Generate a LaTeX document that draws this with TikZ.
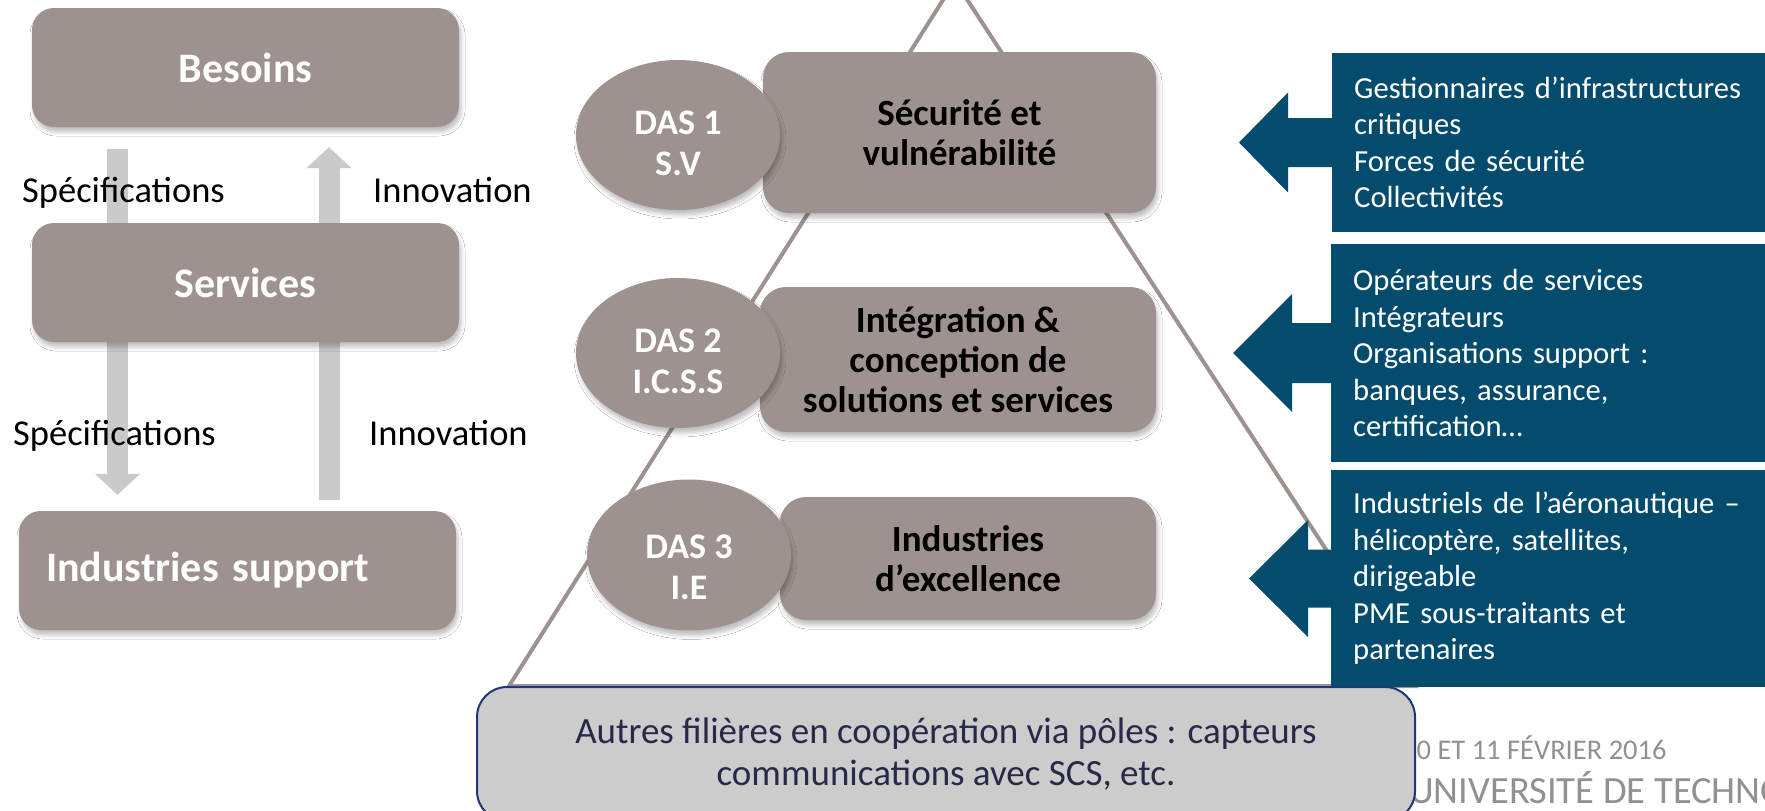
\documentclass[tikz,border=0pt]{standalone}
\usepackage{fontspec}
\setmainfont{Carlito}
\usetikzlibrary{arrows.meta,shapes.geometric,shadows.blur,calc}

\definecolor{boxgrey}{RGB}{157,146,144}
\definecolor{flowgrey}{RGB}{202,202,202}
\definecolor{calblue}{RGB}{4,76,110}
\definecolor{basegrey}{RGB}{204,204,204}
\definecolor{baseedge}{RGB}{30,56,118}
\definecolor{basetext}{RGB}{40,40,72}
\definecolor{footgrey}{RGB}{145,145,145}

\tikzset{
  softshadow/.style={blur shadow={shadow xshift=2pt,shadow yshift=-5pt,shadow blur radius=4pt,shadow opacity=25}},
  levelbox/.style={rectangle,rounded corners=22pt,fill=boxgrey,softshadow,inner sep=0pt,text=white,font=\fontsize{42}{46}\selectfont\bfseries},
  dasbox/.style={rectangle,rounded corners=26pt,fill=boxgrey,softshadow,inner sep=0pt,align=center,font=\fontsize{37}{40}\selectfont\bfseries},
  dasell/.style={ellipse,fill=boxgrey,softshadow,minimum width=204pt,minimum height=150pt,inner sep=0pt},
  dastext/.style={align=center,inner sep=0pt,text=white,font=\fontsize{36}{41}\selectfont\bfseries},
  flowlabel/.style={anchor=base west,inner sep=0pt,font=\fontsize{36.5}{40}\selectfont},
  flow/.style={draw=flowgrey,line width=21pt,-{Triangle[width=44pt,length=21pt]}},
  callout/.style={fill=calblue,anchor=west,inner xsep=22pt,inner ysep=0pt,text width=409pt,align=left,text=white,font=\fontsize{30.6}{36.5}\selectfont},
  basebox/.style={draw=baseedge,line width=2pt,fill=basegrey,rounded corners=30pt,align=center,text=basetext,font=\fontsize{37}{42}\selectfont},
  pyramid/.style={draw=boxgrey,line width=4pt},
  footer/.style={anchor=west,inner sep=0pt,text=footgrey},
}

\begin{document}
\begin{tikzpicture}[x=1pt,y=-1pt]
\useasboundingbox (0,0) rectangle (1765,811);
\clip (0,0) rectangle (1765,811);
\fill[white] (0,0) rectangle (1765,811);

% pyramid outline, behind everything
\draw[pyramid] (955,-19) -- (509,686) -- (1415,686) -- cycle;

% slide footer
\node[footer,font=\fontsize{28.5}{30}\selectfont] (fdate) at (1402,748) {10 ET 11 FÉVRIER 2016};
\node[footer,font=\fontsize{38.5}{40}\selectfont] (funiv) at (1409,788) {UNIVERSITÉ DE TECHNOLOGIE};
\node[footer,font=\fontsize{38.5}{40}\selectfont] (ftroyes) at (1409,829) {DE TROYES};

% left column
\node[levelbox,minimum width=427pt,minimum height=119pt] (besoins) at (245.5,67.5) {Besoins};
\node[levelbox,minimum width=437pt,minimum height=119pt,inner xsep=27pt,text width=383pt,align=left] (indsup) at (237.5,570.5) {Industries support};

\coordinate (dn) at (117.5,0);
\coordinate (up) at (329,0);
\draw[flow,shorten <=22pt,shorten >=16pt] (dn |- besoins.south) -- (dn |- indsup.north);
\draw[flow,shorten <=11pt,shorten >=20pt] (up |- indsup.north) -- (up |- besoins.south);

\node[levelbox,minimum width=427pt,minimum height=119pt] (services) at (245.5,282.5) {Services};

\node[flowlabel] (spec1) at (22,202) {Spécifications};
\node[flowlabel] (inno1) at (373,202) {Innovation};
\node[flowlabel] (spec2) at (13,445) {Spécifications};
\node[flowlabel] (inno2) at (369,445) {Innovation};

% DAS levels
\node[dasbox,minimum width=393pt,minimum height=161pt] (secu) at (959.5,132.5) {Sécurité et\\vulnérabilité};
\node[dasbox,minimum width=396pt,minimum height=145pt] (integ) at (958,359.5) {Intégration \&\\conception de\\solutions et services};
\node[dasbox,minimum width=376pt,minimum height=123pt] (indexc) at (968,558.5) {Industries\\d’excellence};

\node[dasell] (das1) at (678,135) {};
\node[dastext,yshift=-8pt] (das1t) at (das1) {DAS 1\\S.V};
\node[dasell] (das2) at (678,353) {};
\node[dastext,yshift=-8pt] (das2t) at (das2) {DAS 2\\I.C.S.S};
\node[dasell,minimum height=151pt] (das3) at (689,555) {};
\node[dastext,yshift=-12pt] (das3t) at (das3) {DAS 3\\I.E};

% actors, arrow callouts
\node[callout,minimum height=179pt] (cl1) at (1332,142.5) {Gestionnaires d’infrastructures\\critiques\\Forces de sécurité\\Collectivités};
\fill[calblue] (cl1.west) ++(1,-24.5) -- ++(-45,0) -- ++(0,-25.5) -- ++(-49,50) -- ++(49,50) -- ++(0,-25.5) -- ++(45,0) -- cycle;

\node[callout,minimum height=218pt] (cl2) at (1331,353) {Opérateurs de services\\Intégrateurs\\Organisations support :\\banques, assurance,\\certification…};
\fill[calblue] (cl2.west) ++(1,-30) -- ++(-40,0) -- ++(0,-29) -- ++(-59,59) -- ++(59,59) -- ++(0,-29) -- ++(40,0) -- cycle;

\node[callout,minimum height=217pt] (cl3) at (1331,578.5) {Industriels de l’aéronautique –\\hélicoptère, satellites,\\dirigeable\\PME sous-traitants et\\partenaires};
\fill[calblue] (cl3.west) ++(1,-29) -- ++(-24,0) -- ++(0,-29.5) -- ++(-59,58.5) -- ++(59,58.5) -- ++(0,-29.5) -- ++(24,0) -- cycle;

% base
\node[basebox,minimum width=938pt,minimum height=134pt] (autres) at (946,754) {Autres filières en coopération via pôles : capteurs\\communications avec SCS, etc.};
\end{tikzpicture}
\end{document}
